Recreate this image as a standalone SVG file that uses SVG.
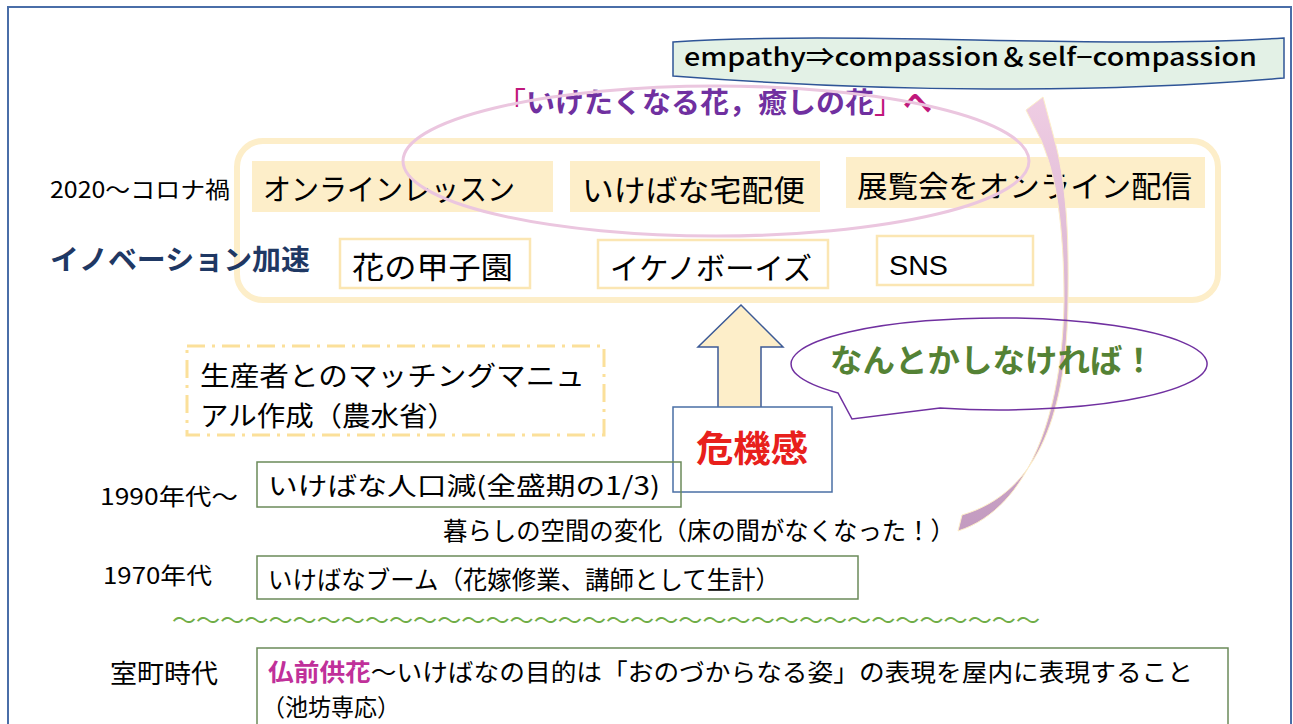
<svg xmlns="http://www.w3.org/2000/svg" width="1293" height="724" viewBox="0 0 1293 724">
<defs>
<style>
text{font-family:"Noto Sans CJK JP","Liberation Sans",sans-serif;fill:#000}
.t30{font-size:30px}
.t25{font-size:25px}
.lbl{font-size:23px}
.beige{fill:#fdeec9;stroke:none}
.wbox{fill:#fff;stroke:#fbe6b3;stroke-width:2.5}
.gbox{fill:none;stroke:#6b8a5a;stroke-width:1.5}
</style>
<linearGradient id="cg" x1="0" y1="1" x2="0" y2="0">
<stop offset="0" stop-color="#c39bc0"/>
<stop offset="1" stop-color="#efcde3"/>
</linearGradient>
</defs>
<rect x="0" y="0" width="1293" height="724" fill="#fff"/>
<rect x="8" y="7" width="1283" height="730" fill="none" stroke="#4a6ea8" stroke-width="2"/>

<g id="banner">
<path d="M673,42 C850,30 1100,50 1284,38 L1284,78 C1100,94 880,92 673,76 Z" fill="#e3f1e6" stroke="#2f5597" stroke-width="1.5"/>
<text x="684" y="66" style="font-size:25px;font-weight:500" textLength="573" lengthAdjust="spacingAndGlyphs">empathy⇒compassion＆self−compassion</text>
</g>

<g id="title">
<text x="497" y="113" style="font-size:28px;font-weight:700;fill:#7030a0" textLength="435" lengthAdjust="spacingAndGlyphs"><tspan style="fill:#c0187c;font-weight:400">「</tspan>いけたくなる花，癒しの花<tspan style="fill:#c0187c;font-weight:400">」</tspan><tspan style="fill:#c0187c">へ</tspan></text>
</g>

<g id="innovation-frame">
<rect x="237" y="141" width="981" height="159" rx="26" fill="none" stroke="#fdeec9" stroke-width="6"/>
</g>

<g id="labels">
<text x="50" y="198" class="lbl" textLength="180" lengthAdjust="spacingAndGlyphs">2020～コロナ禍</text>
<text x="50" y="270" style="font-size:28px;font-weight:700;fill:#1f3864" textLength="260" lengthAdjust="spacingAndGlyphs">イノベーション加速</text>
<text x="100" y="505" class="lbl" textLength="138" lengthAdjust="spacingAndGlyphs">1990年代～</text>
<text x="103" y="584" class="lbl" textLength="109" lengthAdjust="spacingAndGlyphs">1970年代</text>
<text x="110" y="683" style="font-size:26px" textLength="108" lengthAdjust="spacingAndGlyphs">室町時代</text>
</g>

<g id="online-lesson">
<rect x="252" y="161" width="301" height="51" class="beige"/>
<text x="263" y="200" class="t30" textLength="252" lengthAdjust="spacingAndGlyphs">オンラインレッスン</text>
</g>
<g id="takuhaibin">
<rect x="570" y="161" width="250" height="51" class="beige"/>
<text x="582" y="201" class="t30" textLength="223" lengthAdjust="spacingAndGlyphs">いけばな宅配便</text>
</g>
<g id="online-exhibition">
<rect x="846" y="157" width="359" height="51" class="beige"/>
<text x="857" y="197" class="t30" textLength="335" lengthAdjust="spacingAndGlyphs">展覧会をオンライン配信</text>
</g>

<g id="koshien">
<rect x="340" y="239" width="190" height="49" class="wbox"/>
<text x="352" y="278" class="t30" textLength="161" lengthAdjust="spacingAndGlyphs">花の甲子園</text>
</g>
<g id="ikenoboys">
<rect x="598" y="240" width="230" height="48" class="wbox"/>
<text x="610" y="279" class="t30" textLength="202" lengthAdjust="spacingAndGlyphs">イケノボーイズ</text>
</g>
<g id="sns">
<rect x="877" y="236" width="156" height="49" class="wbox"/>
<text x="889" y="275" style="font-family:'Liberation Sans',sans-serif;font-size:27px" textLength="59" lengthAdjust="spacingAndGlyphs">SNS</text>
</g>

<g id="matching-manual">
<rect x="187" y="346" width="417" height="89" fill="#fff" stroke="#fbe09a" stroke-width="3" stroke-dasharray="18,7,3,7"/>
<text x="200" y="386" style="font-size:27px" textLength="385" lengthAdjust="spacingAndGlyphs">生産者とのマッチングマニュ</text>
<text x="200" y="426" style="font-size:27px" textLength="256" lengthAdjust="spacingAndGlyphs">アル作成（農水省）</text>
</g>

<g id="connectors">
<polygon points="741,305 698,347 718,347 718,408 761,408 761,347 783,347" fill="#fdeec9" stroke="#3c5a96" stroke-width="1.5"/>
<path d="M958,531 C1030,508 1063,410 1064,300 C1064,225 1056,175 1041,140 L1026,110 L1043,97 L1054,138 C1066,180 1069,230 1068,300 C1067,410 1040,492 962,515 Z" fill="url(#cg)" stroke="#fdeec9" stroke-width="1"/>
</g>

<g id="crisis">
<rect x="673" y="407" width="159" height="85" fill="#fff" stroke="#4a6fa5" stroke-width="1.5"/>
<text x="752" y="462" text-anchor="middle" style="font-size:36px;font-weight:700;fill:#e8201c" textLength="112" lengthAdjust="spacingAndGlyphs">危機感</text>
</g>

<g id="speech">
<path d="M940,408 A208,46 0 1 0 838,393 L852,419 Z" fill="none" stroke="#7030a0" stroke-width="1.5"/>
<text x="830" y="372" style="font-size:32px;font-weight:700;fill:#548235" textLength="325" lengthAdjust="spacingAndGlyphs">なんとかしなければ！</text>
</g>

<g id="population">
<rect x="257" y="462" width="424" height="45" class="gbox"/>
<text x="268" y="495" class="t25" textLength="392" lengthAdjust="spacingAndGlyphs">いけばな人口減(全盛期の1/3)</text>
</g>

<g id="space-change">
<text x="443" y="540" class="t25" textLength="512" lengthAdjust="spacingAndGlyphs">暮らしの空間の変化（床の間がなくなった！）</text>
</g>

<g id="boom">
<rect x="257" y="556" width="601" height="43" class="gbox"/>
<text x="268" y="589" class="t25" textLength="512" lengthAdjust="spacingAndGlyphs">いけばなブーム（花嫁修業、講師として生計）</text>
</g>

<g id="wave-line">
<text x="172" y="629" style="font-size:24px;fill:#70ad47" textLength="868" lengthAdjust="spacingAndGlyphs">～～～～～～～～～～～～～～～～～～～～～～～～～～～～～～～～～～～～</text>
</g>

<g id="muromachi">
<rect x="257" y="648" width="971" height="90" class="gbox"/>
<text x="268" y="681" style="font-size:24px" textLength="925" lengthAdjust="spacingAndGlyphs"><tspan style="fill:#c0309a;font-weight:700">仏前供花</tspan>～いけばなの目的は「おのづからなる姿」の表現を屋内に表現すること</text>
<text x="262" y="716" style="font-size:24px" textLength="138" lengthAdjust="spacingAndGlyphs">（池坊専応）</text>
</g>

<g id="ellipse-highlight">
<ellipse cx="716" cy="161" rx="313" ry="75" fill="none" stroke="#ebc6df" stroke-width="3"/>
</g>
</svg>
